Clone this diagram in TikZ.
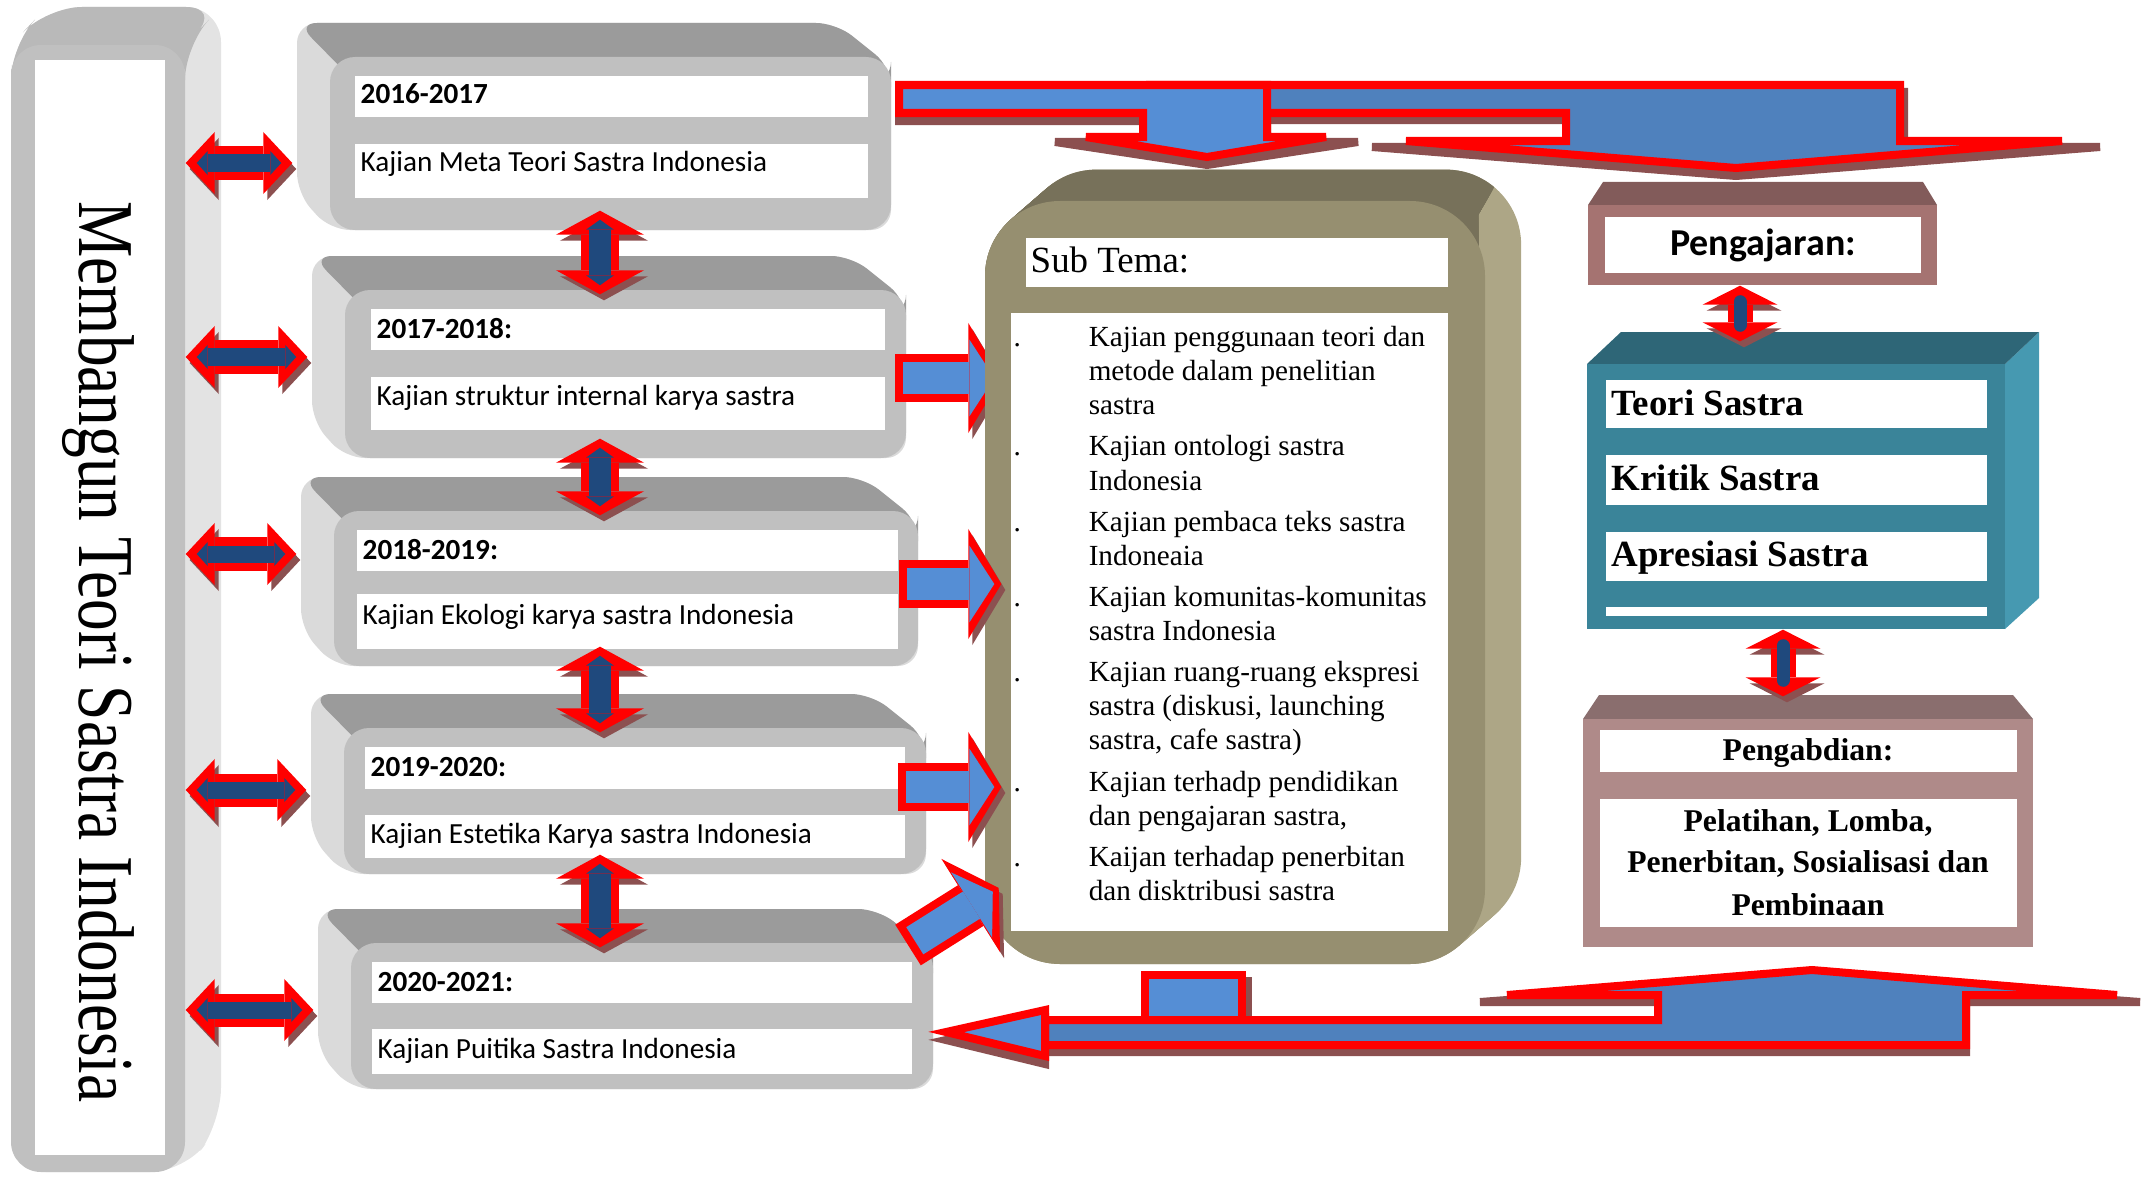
\documentclass[tikz,border=0pt]{standalone}
\usepackage{fontspec}
\setmainfont{Liberation Serif}
\newfontfamily\calibri{Carlito}
\usepackage{graphicx}
\usetikzlibrary{arrows.meta, calc, fit, positioning}

\definecolor{facegray}{HTML}{C0C0C0}
\definecolor{topgray}{HTML}{9B9B9B}
\definecolor{sidegray}{HTML}{DADADA}
\definecolor{olivefront}{HTML}{968F70}
\definecolor{olivetop}{HTML}{77715A}
\definecolor{oliveside}{HTML}{ADA686}
\definecolor{tealfront}{HTML}{3A8499}
\definecolor{tealtop}{HTML}{2E6677}
\definecolor{tealside}{HTML}{4699B1}
\definecolor{rosefront}{HTML}{A57371}
\definecolor{rosetop}{HTML}{825B5A}
\definecolor{pinkfront}{HTML}{AF8A89}
\definecolor{pinktop}{HTML}{8A6E6E}
\definecolor{navyfill}{HTML}{1F497D}
\definecolor{lightblue}{HTML}{558ED5}
\definecolor{midblue}{HTML}{4F81BD}
\definecolor{arrowshadow}{HTML}{8C5050}

\pgfdeclarelayer{upper}
\pgfsetlayers{main,upper}

% 3-D shell behind a year box: left, top, right, bottom of the front face
\newcommand{\yearshell}[4]{%
  \fill[sidegray, rounded corners=0.2cm] (#3,#4) -- (#3,#2+10) -- (#3-55,#2-34)
      -- (#1-33,#2-34) -- (#1-33,#4-37) -- (#1,#4) -- cycle;
  \fill[topgray, rounded corners=0.2cm] (#1+25,#2+25) -- (#1-33,#2-34)
      -- (#3-55,#2-34) -- (#3,#2+10) -- (#3,#2+25) -- cycle;
}

\begin{document}
\begin{tikzpicture}[
    x=0.01cm, y=-0.01cm,   % 1 unit = 1 px of the 2143 x 1176 frame
    yearface/.style={fill=facegray, rounded corners=0.25cm, inner sep=0pt},
    yeartext/.style={anchor=base west, inner sep=0pt, font=\calibri\fontsize{8.3}{10}\selectfont},
    listtext/.style={anchor=north west, inner sep=0pt, font=\fontsize{8.3}{9.7}\selectfont},
    sastratext/.style={anchor=base west, inner sep=0pt, font=\bfseries\fontsize{10.5}{12}\selectfont},
    abditext/.style={anchor=base, inner sep=0pt, font=\bfseries\fontsize{9}{12}\selectfont},
    bigarrow/.style={draw=red, line width=0.08cm},
    bigshadow/.style={draw=arrowshadow, fill=arrowshadow, line width=0.08cm},
    hdbl/.style={draw=red, line width=0.33cm,
        {Triangle[width=0.62cm,length=0.29cm,line width=0pt]}-{Triangle[width=0.62cm,length=0.29cm,line width=0pt]},
        shorten >=0.37cm,
        preaction={draw=arrowshadow, transform canvas={xshift=0.04cm,yshift=-0.06cm}},
        postaction={draw=navyfill, line width=0.17cm,
            {Triangle[width=0.24cm,length=0.11cm,line width=0pt]}-{Triangle[width=0.24cm,length=0.11cm,line width=0pt]},
            shorten <=0.11cm, shorten >=0.48cm}},
    vdbl/.style={draw=red, line width=0.38cm,
        {Triangle[width=0.88cm,length=0.24cm,line width=0pt]}-{Triangle[width=0.88cm,length=0.24cm,line width=0pt]},
        shorten <=-0.2cm, shorten >=-0.05cm,
        preaction={draw=arrowshadow, transform canvas={xshift=0.04cm,yshift=-0.06cm}},
        postaction={draw=navyfill, line width=0.22cm,
            {Triangle[width=0.28cm,length=0.1cm,line width=0pt]}-{Triangle[width=0.28cm,length=0.1cm,line width=0pt]},
            shorten <=-0.11cm, shorten >=0.04cm}},
    pdbl/.style={draw=red, line width=0.25cm,
        {Triangle[width=0.75cm,length=0.19cm,line width=0pt]}-{Triangle[width=0.75cm,length=0.19cm,line width=0pt]},
        shorten >=0.22cm,
        preaction={draw=arrowshadow, transform canvas={xshift=0.04cm,yshift=-0.06cm}},
        postaction={draw=navyfill, line width=0.13cm, -, line cap=round,
            shorten <=0.16cm, shorten >=0.38cm}},
    sarr/.style={draw=red, line width=0.48cm,
        -{Triangle[width=1.1cm,length=0.33cm,line width=0pt]},
        shorten >=-0.17cm,
        preaction={draw=arrowshadow, transform canvas={xshift=0.04cm,yshift=-0.06cm}},
        postaction={draw=lightblue, line width=0.32cm,
            -{Triangle[width=0.77cm,length=0.25cm,line width=0pt]},
            shorten <=0.08cm, shorten >=-0.1cm}},
]
\useasboundingbox (0,0) rectangle (2143,1176);

% ── Left column: title box ───────────────────────────────────────────────────
\fill[gray!22, rounded corners=0.35cm] (11,1172) -- (11,45) -- (47,7) -- (221,7)
    -- (221,1123) -- (185,1172) -- cycle;
\fill[gray!55, rounded corners=0.35cm] (11,100) -- (11,45) -- (47,7) -- (221,7)
    -- (185,45) -- (185,100) -- cycle;
\node[fill=facegray, rounded corners=0.3cm, inner sep=0pt, fit={(11,45) (185,1172)}] (leftbox) {};
\fill[white] (35,60) rectangle (165,1155);
\node[rotate=-90, inner sep=0pt, font=\fontsize{22.5}{27}\selectfont] (title) at (98,652)
    {\scalebox{0.80}[1]{Membangun Teori Sastra Indonesia}};

% ── Year boxes ───────────────────────────────────────────────────────────────
\yearshell{330}{57}{891}{230}
\node[yearface, fit={(330,57) (891,230)}] (yf1) {};
\fill[white] (355,76) rectangle (868,117);
\fill[white] (355,144) rectangle (868,198);
\node[yeartext] (d1) at (360,104) {\bfseries 2016-2017};
\node[yeartext] (k1) at (360,172) {Kajian Meta Teori Sastra Indonesia};

\yearshell{345}{290}{906}{458}
\node[yearface, fit={(345,290) (906,458)}] (yf2) {};
\fill[white] (371,309) rectangle (885,350);
\fill[white] (371,377) rectangle (885,430);
\node[yeartext] (d2) at (376,338) {\bfseries 2017-2018:};
\node[yeartext] (k2) at (376,405) {Kajian struktur internal karya sastra};

\yearshell{334}{511}{918}{666}
\node[yearface, fit={(334,511) (918,666)}] (yf3) {};
\fill[white] (357,530) rectangle (898,571);
\fill[white] (357,594) rectangle (898,649);
\node[yeartext] (d3) at (362,559) {\bfseries 2018-2019:};
\node[yeartext] (k3) at (362,624) {Kajian Ekologi karya sastra Indonesia};

\yearshell{344}{728}{926}{874}
\node[yearface, fit={(344,728) (926,874)}] (yf4) {};
\fill[white] (365,747) rectangle (905,789);
\fill[white] (365,815) rectangle (905,858);
\node[yeartext] (d4) at (370,776) {\bfseries 2019-2020:};
\node[yeartext] (k4) at (370,843) {Kajian Estetika Karya sastra Indonesia};

\yearshell{351}{943}{933}{1089}
\node[yearface, fit={(351,943) (933,1089)}] (yf5) {};
\fill[white] (372,962) rectangle (912,1003);
\fill[white] (372,1029) rectangle (912,1074);
\node[yeartext] (d5) at (377,991) {\bfseries 2020-2021:};
\node[yeartext] (k5) at (377,1058) {Kajian Puitika Sastra Indonesia};

% ── Sub Tema box (drawn above the first feed arrow) ─────────────────────────
\begin{pgfonlayer}{upper}
% extruded shell: the front face swept up and to the right
\foreach \t in {0,0.05,...,1}
    \fill[oliveside, rounded corners=0.75cm] ($(985,201)+\t*(38,-33)$) rectangle ($(1485,964)+\t*(38,-33)$);
\begin{scope}
    \clip (900,300) -- (900,100) -- (1545,100) -- (1478,215) -- (1478,300) -- cycle;
    \foreach \t in {0,0.05,...,1}
        \fill[olivetop, rounded corners=0.75cm] ($(985,201)+\t*(38,-33)$) rectangle ($(1485,964)+\t*(38,-33)$);
\end{scope}
\node[fill=olivefront, rounded corners=0.75cm, inner sep=0pt, fit={(985,201) (1485,964)}] (subface) {};
\fill[white] (1026,238) rectangle (1448,287);
\fill[white] (1011,313) rectangle (1448,931);
\node[anchor=base west, inner sep=0pt, font=\fontsize{10.5}{12}\selectfont] (subhead) at (1030,272) {Sub Tema:};
\node[listtext] (sublist) at (1013,322) {%
\begin{tabular}{@{}p{0.75cm}@{}l@{}}
. & Kajian penggunaan teori dan\\
  & metode dalam penelitian\\
  & sastra\\[2pt]
. & Kajian ontologi sastra\\
  & Indonesia\\[2pt]
. & Kajian pembaca teks sastra\\
  & Indoneaia\\[2pt]
. & Kajian komunitas-komunitas\\
  & sastra Indonesia\\[2pt]
. & Kajian ruang-ruang ekspresi\\
  & sastra (diskusi, launching\\
  & sastra, cafe sastra)\\[2pt]
. & Kajian terhadp pendidikan\\
  & dan pengajaran sastra,\\[2pt]
. & Kaijan terhadap penerbitan\\
  & dan disktribusi sastra
\end{tabular}};
\end{pgfonlayer}

% ── Feed arrows into Sub Tema ───────────────────────────────────────────────
\coordinate (s2) at (895,378);
\coordinate (s3) at (899,584);
\coordinate (s4) at (898,787);
\coordinate (s5) at (908,945);
\draw[sarr] (s2) -- (subface.west |- s2);
\begin{pgfonlayer}{upper}
\draw[sarr] (s3) -- (subface.west |- s3);
\draw[sarr] (s4) -- (subface.west |- s4);
\draw[sarr] (s5) -- (subface.west |- 0,897);
\end{pgfonlayer}

% ── Title <-> year boxes ────────────────────────────────────────────────────
\draw[hdbl] (leftbox.east |- 0,163) -- (yf1.west |- 0,163);
\draw[hdbl] (leftbox.east |- 0,357) -- (yf2.west |- 0,357);
\draw[hdbl] (leftbox.east |- 0,554) -- (yf3.west |- 0,554);
\draw[hdbl] (leftbox.east |- 0,790) -- (yf4.west |- 0,790);
\draw[hdbl] (leftbox.east |- 0,1010) -- (yf5.west |- 0,1010);

% ── Year box <-> year box ───────────────────────────────────────────────────
\draw[vdbl] (yf1.south -| 600,0) -- (yf2.north -| 600,0);
\draw[vdbl] (yf2.south -| 600,0) -- (yf3.north -| 600,0);
\draw[vdbl] (yf3.south -| 600,0) -- (yf4.north -| 600,0);
\draw[vdbl] (yf4.south -| 600,0) -- (yf5.north -| 600,0);

% ── Top fork arrow ──────────────────────────────────────────────────────────
\filldraw[bigshadow] (1150,92) -- (1904,92) -- (1904,147) -- (2100,147) -- (1736,176)
    -- (1372,147) -- (1566,147) -- (1566,120) -- (1150,120) -- cycle;
\filldraw[bigshadow] (899,91) -- (1267,91) -- (1267,142) -- (1358,142) -- (1207,165)
    -- (1055,142) -- (1143,142) -- (1143,121) -- (899,121) -- cycle;
\filldraw[bigarrow, fill=midblue] (1150,85) -- (1900,85) -- (1900,141) -- (2062,141)
    -- (1736,168) -- (1406,141) -- (1566,141) -- (1566,113) -- (1150,113) -- cycle;
\filldraw[bigarrow, fill=lightblue] (899,85) -- (1267,85) -- (1267,137) -- (1326,137)
    -- (1207,157) -- (1086,137) -- (1143,137) -- (1143,113) -- (899,113) -- cycle;

% ── Right column ────────────────────────────────────────────────────────────
% Pengajaran
\fill[rosetop] (1588,205) -- (1603,182) -- (1923,182) -- (1937,205) -- cycle;
\node[fill=rosefront, inner sep=0pt, fit={(1588,205) (1937,285)}] (pengface) {};
\fill[white] (1605,217) rectangle (1921,273);
\node[anchor=base, inner sep=0pt, font=\calibri\bfseries\fontsize{10.8}{13}\selectfont] (pengtxt) at (1763,255) {Pengajaran:};

% Teori / Kritik / Apresiasi
\fill[tealside] (2005,364) -- (2039,332) -- (2039,598) -- (2005,629) -- cycle;
\fill[tealtop] (1587,364) -- (1621,332) -- (2039,332) -- (2005,364) -- cycle;
\node[fill=tealfront, inner sep=0pt, fit={(1587,364) (2005,629)}] (tealface) {};
\fill[white] (1606,380) rectangle (1987,428);
\fill[white] (1606,455) rectangle (1987,505);
\fill[white] (1606,532) rectangle (1987,581);
\fill[white] (1606,607) rectangle (1987,616);
\node[sastratext] (teori) at (1611,415) {Teori Sastra};
\node[sastratext] (kritik) at (1611,490) {Kritik Sastra};
\node[sastratext] (apres) at (1611,566) {Apresiasi Sastra};

% Pengabdian
\fill[pinktop] (1583,719) -- (1599,695) -- (2013,695) -- (2033,719) -- cycle;
\node[fill=pinkfront, inner sep=0pt, fit={(1583,719) (2033,947)}] (abdiface) {};
\fill[white] (1600,730) rectangle (2017,772);
\fill[white] (1600,799) rectangle (2017,927);
\node[abditext] (abdihead) at (1808,760) {Pengabdian:};
\node[abditext] (abdi1) at (1808,831) {Pelatihan, Lomba,};
\node[abditext] (abdi2) at (1808,872) {Penerbitan, Sosialisasi dan};
\node[abditext] (abdi3) at (1808,915) {Pembinaan};

% links between the three boxes
\draw[pdbl] (pengface.south -| 1740,0) -- (tealface.north -| 1740,0);
\draw[pdbl] (tealface.south -| 1783,0) -- (abdiface.north -| 1783,0);

% ── Bottom return arrow ─────────────────────────────────────────────────────
\filldraw[bigshadow] (1149,981) rectangle (1248,1024);
\filldraw[bigshadow] (1045,1027) -- (1658,1027) -- (1658,1002) -- (1480,1002) -- (1812,977)
    -- (2140,1002) -- (1966,1002) -- (1966,1052) -- (1045,1052) -- cycle;
\filldraw[bigshadow] (946,1040) -- (1045,1018) -- (1045,1064) -- cycle;
\filldraw[bigarrow, fill=lightblue] (1145,975) rectangle (1242,1020);
\filldraw[bigarrow, fill=midblue] (1045,1020) -- (1658,1020) -- (1658,995) -- (1507,995)
    -- (1812,970) -- (2117,995) -- (1966,995) -- (1966,1045) -- (1045,1045) -- cycle;
\filldraw[bigarrow, fill=lightblue] (946,1032) -- (1045,1010) -- (1045,1056) -- cycle;

\end{tikzpicture}
\end{document}
